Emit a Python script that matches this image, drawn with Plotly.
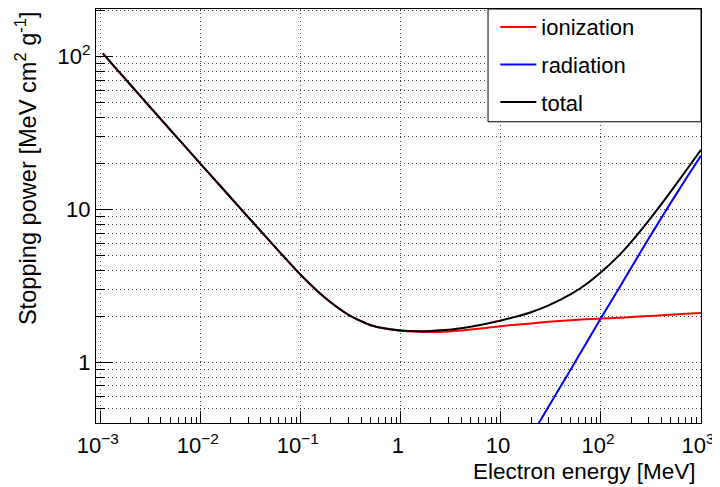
import plotly.graph_objects as go

# ---- data (MeV, MeV cm^2/g) ----
energy = [0.00105, 0.0015, 0.002, 0.003, 0.005, 0.007, 0.01, 0.015, 0.02, 0.03,
          0.05, 0.07, 0.1, 0.15, 0.2, 0.3, 0.4, 0.5, 0.7, 1, 1.5, 2, 3, 5, 7,
          10, 15, 20, 30, 50, 70, 100, 150, 200, 300, 400, 500, 700, 1000]
ionization = [105, 80.5, 65.0, 48.1, 33.0, 25.75, 19.81, 14.72, 11.92, 8.86,
              6.11, 4.79, 3.72, 2.881, 2.459, 2.041, 1.856, 1.747, 1.66, 1.607, 1.582, 1.577, 1.59, 1.635, 1.675,
              1.72, 1.765, 1.795, 1.84, 1.885, 1.908, 1.93, 1.955, 1.975, 2.005, 2.03, 2.045, 2.075, 2.10]
total = [105, 80.5, 65.0, 48.1, 33.0, 25.75, 19.81, 14.72, 11.92, 8.86,
         6.11, 4.79, 3.72, 2.881, 2.459, 2.041, 1.856, 1.747, 1.66, 1.612, 1.597, 1.603, 1.63, 1.706, 1.778,
         1.873, 2.004, 2.124, 2.353, 2.785, 3.212, 3.878, 4.967, 6.11, 8.45, 10.79, 13.13, 17.78, 24.6]
energy_rad = [10, 15, 20, 30, 50, 70, 100, 150, 200, 300, 400, 500, 700, 1000]
radiation = [0.153, 0.239, 0.3285, 0.513, 0.90, 1.304, 1.945, 3.01, 4.135, 6.445, 8.76, 11.08, 15.7, 22.5]

series_names = ["ionization", "radiation", "total"]
series_colors = ["#ff0000", "#0000ff", "#000000"]

x_tickvals = [0.001, 0.01, 0.1, 1, 10, 100, 1000]
x_ticktext = ["10<sup>−3</sup>", "10<sup>−2</sup>", "10<sup>−1</sup>", "1", "10",
              "10<sup>2</sup>", "10<sup>3</sup>"]
y_tickvals = [1, 10, 100]
y_ticktext = ["1", "10", "10<sup>2</sup>"]

x_title = "Electron energy [MeV]"
y_title = "Stopping power [MeV cm<sup>2</sup> g<sup>-1</sup>]"

FONT = "Liberation Sans, Arial, Helvetica, sans-serif"

fig = go.Figure()
xs = [energy, energy_rad, energy]
ys = [ionization, radiation, total]
for name, color, x, y in zip(series_names, series_colors, xs, ys):
    fig.add_trace(go.Scatter(
        x=x, y=y, mode="lines", name=name, legendgroup=name,
        line=dict(color=color, width=2, shape="spline", smoothing=0.6),
    ))

grid_dash = "1px,3px"
fig.update_xaxes(
    type="log", range=[-3.047, 3], automargin=False,
    tickvals=x_tickvals, ticktext=x_ticktext,
    ticks="inside", ticklen=12, tickwidth=1, tickcolor="black",
    showline=True, linecolor="black", linewidth=1, mirror=True,
    showgrid=True, gridcolor="#444", gridwidth=1, griddash=grid_dash,
    minor=dict(ticks="inside", ticklen=6, tickcolor="black", dtick="D1", showgrid=False),
    tickfont=dict(family=FONT, size=22, color="black"),
    ticklabelstandoff=3, ticklabelshift=-3,
    zeroline=False,
)
fig.update_yaxes(
    type="log", range=[-0.398, 2.312], automargin=False,
    tickvals=y_tickvals, ticktext=y_ticktext,
    ticks="inside", ticklen=17, tickwidth=1, tickcolor="black",
    showline=True, linecolor="black", linewidth=1, mirror=True,
    showgrid=True, gridcolor="#444", gridwidth=1, griddash=grid_dash,
    minor=dict(ticks="inside", ticklen=9, tickcolor="black", dtick="D1",
               showgrid=True, gridcolor="#444", gridwidth=1, griddash=grid_dash),
    tickfont=dict(family=FONT, size=22, color="black"),
    ticklabelstandoff=0,
    zeroline=False,
)

# legend box (ROOT TLegend style)
fig.add_shape(type="rect", xref="paper", yref="paper", x0=0.648, x1=1, y0=0.7276, y1=1,
              line=dict(color="black", width=1), fillcolor="white", layer="above")

fig.add_annotation(text=x_title, xref="paper", yref="paper", x=0.995, y=-0.116,
                   xanchor="right", yanchor="middle", showarrow=False,
                   font=dict(family=FONT, size=22.5, color="black"))
fig.add_annotation(text=y_title, xref="paper", yref="paper", x=-0.1155, y=1.0,
                   xanchor="center", yanchor="top", textangle=-90, showarrow=False,
                   font=dict(family=FONT, size=23.6, color="black"))

# the page body adds an 8px offset, so the figure is sized to fit the window
fig.update_layout(
    width=712, height=479,
    margin=dict(l=88, r=19, t=1, b=64, pad=0, autoexpand=False),
    paper_bgcolor="white", plot_bgcolor="white",
    font=dict(family=FONT, size=22, color="black"),
    showlegend=True,
    legend=dict(x=0.66, y=1.007, xanchor="left", yanchor="top",
                bgcolor="rgba(0,0,0,0)", borderwidth=0,
                tracegroupgap=6, itemwidth=36,
                font=dict(family=FONT, size=22, color="black")),
)

fig.write_html("out.html")
